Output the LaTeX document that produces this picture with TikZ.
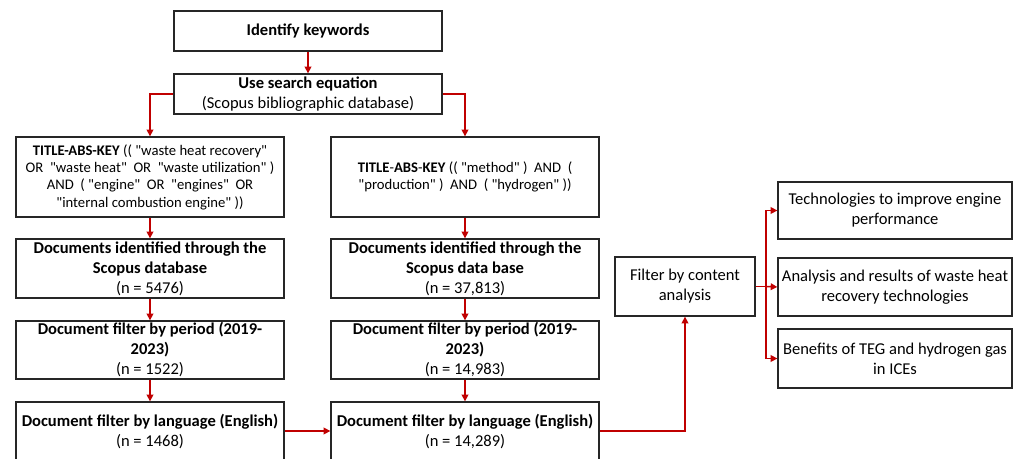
\documentclass[tikz,border=0pt]{standalone}
\usepackage{fontspec}
\setmainfont{Carlito}[Ligatures=TeXOff]
\usetikzlibrary{arrows.meta}
\definecolor{flowred}{RGB}{192,0,0}

\begin{document}
\begin{tikzpicture}[x=0.75pt,y=-0.75pt,
  box/.style={draw=black!85, line width=1pt, align=center, inner sep=1pt,
    font=\fontsize{12.4}{15}\selectfont},
  query/.style={box, font=\fontsize{11}{13}\selectfont},
  wide/.style={minimum width=201pt},
  link/.style={draw=flowred, line width=1.1pt, -{Triangle[length=5pt,width=5pt]}},
  plain/.style={draw=flowred, line width=1.1pt},
]
\useasboundingbox (0,0) rectangle (1014,459);

% search set-up
\node[box, wide, minimum height=30pt] (key) at (308,31) {\textbf{Identify keywords}};
\node[box, wide, minimum height=30pt] (search) at (308,94) {\textbf{Use search equation}\\(Scopus bibliographic database)};

% queries
\node[query, wide, minimum height=60pt] (ql) at (150,177) {\textbf{TITLE-ABS-KEY} (( "waste heat recovery"\\ OR~ "waste heat"~ OR~ "waste utilization" )\\ AND~ ( "engine"~ OR~ "engines"~ OR\\ "internal combustion engine" ))};
\node[query, wide, minimum height=60pt] (qr) at (465,177) {\textbf{TITLE}-\textbf{ABS}-\textbf{KEY} (( "method" )~ AND~ (\\ "production" )~ AND~ ( "hydrogen" ))};

% left column
\node[box, wide, minimum height=44.25pt] (idl) at (150,268.5) {\textbf{Documents identified through the}\\\textbf{Scopus database}\\(n = 5476)};
\node[box, wide, minimum height=43.5pt] (perl) at (150,350) {\textbf{Document filter by period (2019-}\\\textbf{2023)}\\(n = 1522)};
\node[box, wide, minimum height=45pt] (langl) at (150,432) {\textbf{Document filter by language (English)}\\(n = 1468)};

% right column
\node[box, wide, minimum height=44.25pt] (idr) at (465,268.5) {\textbf{Documents identified through the}\\\textbf{Scopus data base}\\(n = 37,813)};
\node[box, wide, minimum height=43.5pt] (perr) at (465,350) {\textbf{Document filter by period (2019-}\\\textbf{2023)}\\(n = 14,983)};
\node[box, wide, minimum height=45pt] (langr) at (465,432) {\textbf{Document filter by language (English)}\\(n = 14,289)};

% content analysis and outcomes
\node[box, minimum width=105pt, minimum height=44.25pt] (filter) at (685,286.5) {Filter by content\\analysis};
\node[box, minimum width=175.5pt, minimum height=42.75pt] (r1) at (895,210.5) {Technologies to improve engine\\performance};
\node[box, minimum width=175.5pt, minimum height=43.5pt] (r2) at (895,287) {Analysis and results of waste heat\\recovery technologies};
\node[box, minimum width=175.5pt, minimum height=44.25pt] (r3) at (895,358.5) {Benefits of TEG and hydrogen gas\\in ICEs};

% connectors
\draw[link] (key) -- (search);
\draw[link] (search.west) -| (ql.north);
\draw[link] (search.east) -| (qr.north);
\draw[link] (ql) -- (idl);
\draw[link] (idl) -- (perl);
\draw[link] (perl) -- (langl);
\draw[link] (qr) -- (idr);
\draw[link] (idr) -- (perr);
\draw[link] (perr) -- (langr);
\draw[link] (langl.east |- 0,431) -- (langr.west |- 0,431);
\draw[link] (langr.east |- 0,431) -| (filter.south);
\coordinate (fork) at (766,286.5);
\draw[plain] (filter.east) -- (fork);
\draw[link] (fork) |- (r1.west);
\draw[link] (fork) -- (r2.west);
\draw[link] (fork) |- (r3.west);
\end{tikzpicture}
\end{document}
